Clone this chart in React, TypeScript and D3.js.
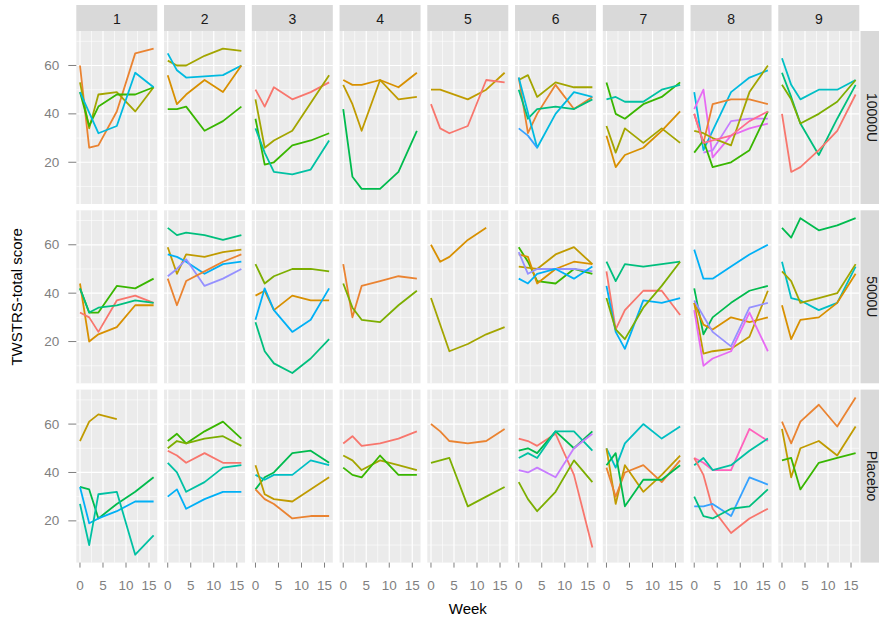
import React from "react";
import * as d3 from "d3";

// weeks at which TWSTRS was measured
const WEEKS = [0, 2, 4, 8, 12, 16];
const SITES = [1, 2, 3, 4, 5, 6, 7, 8, 9];
const TREATMENTS = ["10000U", "5000U", "Placebo"];

// each row: [site, patient colour id, week0, week2, week4, week8, week12, week16]
const DOSE_10000: (number | null)[][] = [
  [1, 2, 60, 26, 27, 41, 65, 67],
  [1, 5, 53, 34, 48, 49, 41, 51],
  [1, 7, 49, 35, 43, 48, 48, 51],
  [1, 12, 49, null, 32, 35, 57, 51],
  [2, 5, 62, 60, 60, 64, 67, 66],
  [2, 12, 65, 58, 55, null, 56, 60],
  [2, 3, 56, 44, 48, 54, 49, 60],
  [2, 7, 42, 42, 43, 33, 37, 43],
  [3, 1, 50, 43, 51, 46, 49, 53],
  [3, 5, 46, 26, 29, 33, null, 56],
  [3, 7, 38, 19, 20, 27, 29, 32],
  [3, 10, 34, 24, 16, 15, 17, 29],
  [4, 3, 54, 52, 52, 54, 51, 57],
  [4, 4, 52, 44, 33, 54, 46, 47],
  [4, 8, 42, 14, 9, 9, 16, 33],
  [5, 4, 50, 50, null, 46, 50, 57],
  [5, 1, 44, 34, 32, 35, 54, 53],
  [6, 5, 54, 56, 47, 53, 51, 51],
  [6, 2, 55, 32, 40, 52, 42, 47],
  [6, 9, 50, 38, 42, 43, 42, 46],
  [6, 12, 55, null, 26, 40, 49, 47],
  [6, 14, 34, 31, 26, null, null, null],
  [7, 7, 53, 40, 38, 44, 47, 53],
  [7, 10, 46, 47, 45, 45, 50, 52],
  [7, 5, 35, 24, 34, 28, 34, 28],
  [7, 3, 31, 18, 23, 26, 33, 41],
  [8, 12, 49, 25, null, 49, 55, 58],
  [8, 17, 42, 50, 22, 31, 34, 36],
  [8, 16, null, 24, 25, 37, 38, 38],
  [8, 2, 40, 28, 44, 46, 46, 44],
  [8, 5, 33, 32, 30, 27, 49, 60],
  [8, 7, 24, 29, 18, 20, 25, 41],
  [8, 20, 40, 28, 29, 31, 37, 41],
  [9, 11, 63, 52, 46, 50, 50, 54],
  [9, 9, 57, 47, 36, 23, 38, 52],
  [9, 6, 52, 46, 36, 40, 45, 54],
  [9, 1, 40, 16, 18, 25, 33, 48],
];

const DOSE_5000: (number | null)[][] = [
  [1, 7, 42, 32, 32, 43, 42, 46],
  [1, 3, 44, 20, 23, 26, 35, 35],
  [1, 1, 32, 30, 24, 37, 39, 36],
  [1, 9, 42, 32, 34, 35, 37, 36],
  [2, 9, 67, 64, 65, 64, 62, 64],
  [2, 4, 59, 48, 56, 55, 57, 58],
  [2, 13, 56, 55, 53, 48, 52, 53],
  [2, 15, 47, 50, 54, 43, 46, 50],
  [2, 2, 46, 35, 45, 49, 53, 56],
  [3, 6, 52, 44, 47, 50, 50, 49],
  [3, 3, 39, 41, 33, 39, 37, 37],
  [3, 13, 29, 42, 33, 24, 29, 42],
  [3, 9, 28, 16, 11, 7, 13, 21],
  [4, 2, 52, 30, 43, 45, 47, 46],
  [4, 6, 44, 34, 29, 28, 35, 41],
  [5, 3, 60, 53, 55, 62, 67, null],
  [5, 5, 38, null, 16, 19, 23, 26],
  [6, 7, 59, 53, 45, 44, 50, 48],
  [6, 4, 51, null, 50, 56, 59, 52],
  [6, 3, 56, 55, 44, 50, 53, 52],
  [6, 15, 57, 48, 50, 50, 50, 49],
  [6, 13, 46, 44, 48, 50, 46, 51],
  [7, 9, 53, 45, 52, 51, 52, 53],
  [7, 1, 49, 25, 33, 41, 41, 31],
  [7, 13, 43, 24, 17, 37, 36, 38],
  [7, 6, 38, 25, 21, 34, 43, 53],
  [8, 13, 58, 46, 46, 51, 56, 60],
  [8, 8, 42, 23, 30, 36, 41, 43],
  [8, 4, 36, 15, 16, 17, 22, 41],
  [8, 3, 36, 27, 25, 30, 28, 30],
  [8, 15, 37, null, 24, 18, 34, 36],
  [8, 17, 33, 10, 13, 16, 32, 16],
  [9, 8, 67, 63, 71, 66, 68, 71],
  [9, 11, 53, 38, 37, 33, 36, 51],
  [9, 5, 49, 45, 36, 38, 40, 52],
  [9, 3, 35, 21, 29, 30, 36, 48],
];

const PLACEBO: (number | null)[][] = [
  [1, 4, 53, 61, 64, 62, null, null],
  [1, 8, 34, 33, 21, 27, 32, 38],
  [1, 13, 34, 19, 21, 24, 28, 28],
  [1, 10, 27, 10, 31, 32, 6, 14],
  [2, 7, 53, 56, 52, 57, 61, 54],
  [2, 6, 50, 53, 52, 54, 55, 51],
  [2, 1, 49, 47, 44, 48, 44, 44],
  [2, 10, 44, 40, 32, 36, 42, 43],
  [2, 13, 30, 33, 25, 29, 32, 32],
  [3, 8, 33, 38, 40, 48, 49, 44],
  [3, 11, 39, 37, 39, 39, 45, 43],
  [3, 4, 43, 31, 29, 28, null, 38],
  [3, 2, 33, 29, 27, 21, 22, 22],
  [4, 1, 52, 55, 51, 52, 54, 57],
  [4, 5, 47, 45, 41, 45, 43, 41],
  [4, 7, 42, 39, 38, 47, 39, 39],
  [5, 2, 60, 57, 53, 52, 53, 58],
  [5, 6, 44, null, 46, 26, 30, 34],
  [6, 1, 54, 53, 51, 56, 39, 9],
  [6, 8, 49, 50, 48, 57, 50, 57],
  [6, 10, 46, 48, 46, 57, 57, 49],
  [6, 16, 41, 40, 42, 38, 50, 56],
  [6, 6, 36, 29, 24, 32, 45, 36],
  [7, 11, 50, 42, 52, 60, 54, 59],
  [7, 4, 50, 27, 43, 32, 39, 47],
  [7, 2, 42, 30, 40, 43, 36, 45],
  [7, 8, 43, 48, 26, 37, 37, 43],
  [8, 19, 46, 44, 41, 41, 58, 53],
  [8, 10, 43, 46, 41, 43, 49, 54],
  [8, 1, 46, 39, 25, 15, 21, 25],
  [8, 14, 26, 26, 27, 22, 38, 35],
  [8, 9, 30, 22, 21, 25, 26, 33],
  [9, 2, 61, 52, 61, 68, 59, 71],
  [9, 4, 58, 38, 50, 53, 47, 59],
  [9, 7, 45, 46, 33, 44, 46, 48],
];

const BY_TREATMENT = [DOSE_10000, DOSE_5000, PLACEBO];

const Y_TICKS = [20, 40, 60];
const Y_MINOR = [10, 30, 50, 70];
const X_TICKS = [0, 5, 10, 15];
const X_MINOR = [2.5, 7.5, 12.5];

// ggplot default hue palette, 20 levels
const PALETTE = [
  "#F8766D", "#EA8331", "#D89000", "#C09B00", "#A3A500",
  "#7CAE00", "#39B600", "#00BB4E", "#00BF7D", "#00C1A3",
  "#00BFC4", "#00BAE0", "#00B0F6", "#35A2FF", "#9590FF",
  "#C77CFF", "#E76BF3", "#FA62DB", "#FF62BC", "#FF6C90",
];

const W = 879;
const H = 623;
const PANEL_LEFT = 76.3;
const PANEL_W = 81;
const PANEL_STEP = 87.75;
const PANEL_TOP = 31;
const PANEL_H = 173;
const ROW_STEP = 179.3;
const FONT = "'Liberation Sans', Arial, Helvetica, sans-serif";

export default function App() {
  const x = d3.scaleLinear().domain([-0.8, 16.8]).range([0, PANEL_W]);
  const y = d3.scaleLinear().domain([2.75, 74.25]).range([PANEL_H, 0]);
  const colour = d3
    .scaleOrdinal<number, string>()
    .domain(d3.range(1, 21))
    .range(PALETTE);

  const line = d3
    .line<[number, number]>()
    .x((d) => x(d[0]))
    .y((d) => y(d[1]));

  const bottom = PANEL_TOP + 2 * ROW_STEP + PANEL_H;

  return (
    <svg
      width={W}
      height={H}
      style={{ position: "absolute", left: 0, top: 0, fontFamily: FONT }}
    >
      <rect width={W} height={H} fill="#fff" />

      {/* strips on top */}
      {SITES.map((s, c) => {
        const left = PANEL_LEFT + c * PANEL_STEP;
        return (
          <g key={"ts" + s}>
            <rect x={left} y={5} width={PANEL_W} height={PANEL_TOP - 5} fill="#D9D9D9" />
            <text
              x={left + PANEL_W / 2}
              y={18.5}
              textAnchor="middle"
              dominantBaseline="central"
              fontSize={14}
              fill="#1a1a1a"
            >
              {s}
            </text>
          </g>
        );
      })}

      {/* strips on the right */}
      {TREATMENTS.map((t, r) => {
        const top = PANEL_TOP + r * ROW_STEP;
        return (
          <g key={"rs" + t}>
            <rect x={860.5} y={top} width={30} height={PANEL_H} fill="#D9D9D9" />
            <text
              transform={`translate(872,${top + PANEL_H / 2}) rotate(90)`}
              textAnchor="middle"
              dominantBaseline="central"
              fontSize={14}
              fill="#1a1a1a"
            >
              {t}
            </text>
          </g>
        );
      })}

      {/* panels */}
      {TREATMENTS.map((t, r) =>
        SITES.map((s, c) => {
          const left = PANEL_LEFT + c * PANEL_STEP;
          const top = PANEL_TOP + r * ROW_STEP;
          const rows = BY_TREATMENT[r].filter((p) => p[0] === s);
          return (
            <g key={t + s} transform={`translate(${left},${top})`}>
              <rect width={PANEL_W} height={PANEL_H} fill="#EBEBEB" />
              {Y_MINOR.map((v) => (
                <line key={"ym" + v} x1={0} x2={PANEL_W} y1={y(v)} y2={y(v)} stroke="#fff" strokeWidth={0.6} />
              ))}
              {X_MINOR.map((v) => (
                <line key={"xm" + v} x1={x(v)} x2={x(v)} y1={0} y2={PANEL_H} stroke="#fff" strokeWidth={0.6} />
              ))}
              {Y_TICKS.map((v) => (
                <line key={"yg" + v} x1={0} x2={PANEL_W} y1={y(v)} y2={y(v)} stroke="#fff" strokeWidth={1.2} />
              ))}
              {X_TICKS.map((v) => (
                <line key={"xg" + v} x1={x(v)} x2={x(v)} y1={0} y2={PANEL_H} stroke="#fff" strokeWidth={1.2} />
              ))}
              {rows.map((p, i) => {
                const pts = WEEKS.map((w, k) => [w, p[k + 2]] as [number, number | null]).filter(
                  (d) => d[1] !== null
                ) as [number, number][];
                return (
                  <path
                    key={i}
                    d={line(pts) || ""}
                    fill="none"
                    stroke={colour(p[1] as number)}
                    strokeWidth={1.8}
                    strokeLinejoin="round"
                  />
                );
              })}
            </g>
          );
        })
      )}

      {/* y axes */}
      {TREATMENTS.map((t, r) => {
        const top = PANEL_TOP + r * ROW_STEP;
        return (
          <g key={"ya" + t} transform={`translate(${PANEL_LEFT},${top})`}>
            {Y_TICKS.map((v) => (
              <g key={v}>
                <line x1={-8} x2={0} y1={y(v)} y2={y(v)} stroke="#7f7f7f" strokeWidth={1} />
                <text
                  x={-17}
                  y={y(v)}
                  textAnchor="end"
                  dominantBaseline="central"
                  fontSize={13.5}
                  fill="#7f7f7f"
                >
                  {v}
                </text>
              </g>
            ))}
          </g>
        );
      })}

      {/* x axes */}
      {SITES.map((s, c) => {
        const left = PANEL_LEFT + c * PANEL_STEP;
        return (
          <g key={"xa" + s} transform={`translate(${left},${bottom})`}>
            {X_TICKS.map((v) => (
              <g key={v}>
                <line x1={x(v)} x2={x(v)} y1={0} y2={5} stroke="#7f7f7f" strokeWidth={1} />
                <text
                  x={x(v)}
                  y={23}
                  textAnchor="middle"
                  dominantBaseline="central"
                  fontSize={13.5}
                  fill="#7f7f7f"
                >
                  {v}
                </text>
              </g>
            ))}
          </g>
        );
      })}

      {/* axis titles */}
      <text
        x={PANEL_LEFT + (8 * PANEL_STEP + PANEL_W) / 2}
        y={608}
        textAnchor="middle"
        dominantBaseline="central"
        fontSize={15}
        fill="#000"
      >
        Week
      </text>
      <text
        transform={`translate(16,${(PANEL_TOP + bottom) / 2}) rotate(-90)`}
        textAnchor="middle"
        dominantBaseline="central"
        fontSize={15}
        fill="#000"
      >
        TWSTRS-total score
      </text>
    </svg>
  );
}
